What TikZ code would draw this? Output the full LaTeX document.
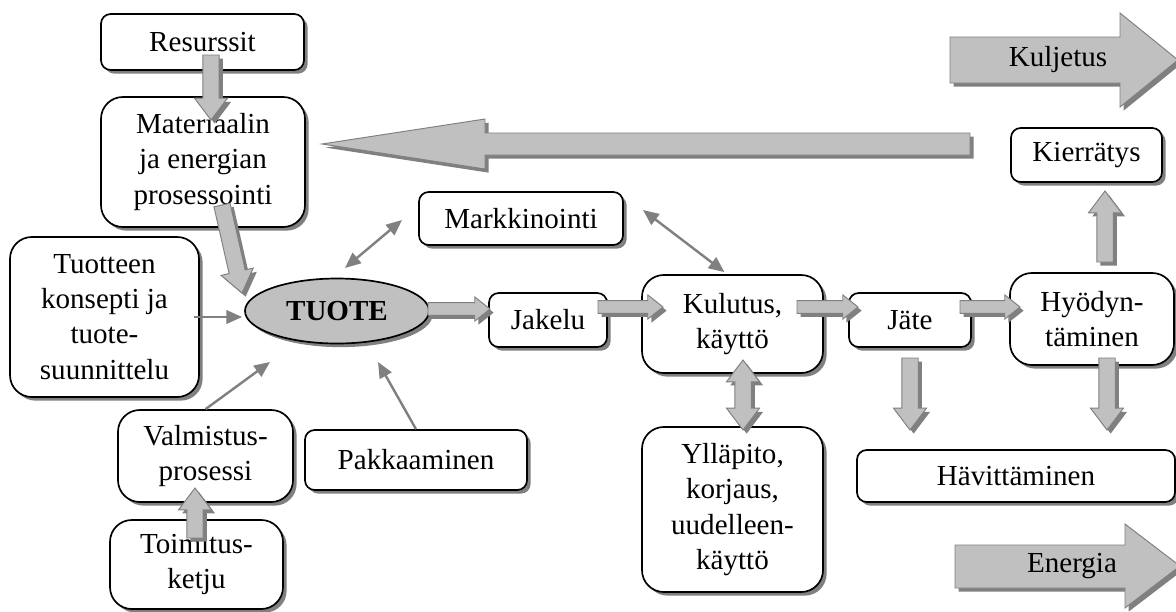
\documentclass[tikz,border=0pt]{standalone}
\usepackage{fontspec}
\setmainfont{Liberation Serif}
\usetikzlibrary{arrows.meta,calc,shadows,shapes.geometric}
\definecolor{fillgray}{HTML}{C0C0C0}
\definecolor{shade}{HTML}{808080}
\tikzset{
  sz/.style 2 args={minimum width=#1*0.413pt,minimum height=#2*0.413pt},
  shad/.style={drop shadow={shadow xshift=1.5pt,shadow yshift=-1.5pt,fill=shade,opacity=1}},
  box/.style={draw=black,line width=0.7pt,fill=white,rounded corners=4pt,align=center,inner sep=1pt,font=\fontsize{12}{14.5}\selectfont,shad},
  bigbox/.style={box,rounded corners=9pt},
  prod/.style={ellipse,draw=black,line width=0.7pt,fill=fillgray,inner sep=0pt,font=\fontsize{12}{14}\selectfont\bfseries,shad},
  fat/.style={draw=shade,line width=0.4pt,fill=fillgray,line join=miter,shad},
  link/.style={-{Triangle[length=6.5pt,width=5.5pt]},draw=shade,line width=1pt},
  dlink/.style={{Triangle[length=6.5pt,width=5.5pt]}-{Triangle[length=6.5pt,width=5.5pt]},draw=shade,line width=1pt},
  lbl/.style={font=\fontsize{12}{14}\selectfont},
}
% #1 from, #2 to, #3 shaft half, #4 head half, #5 head length
\newcommand\fatarrow[5]{%
  \coordinate (fah) at ($(#2)!#5!(#1)$);
  \draw[fat] ($(#1)!#3!90:(#2)$) -- ($(fah)!#3!90:(#2)$) -- ($(fah)!#4!90:(#2)$) -- (#2)
    -- ($(fah)!#4!-90:(#2)$) -- ($(fah)!#3!-90:(#2)$) -- ($(#1)!#3!-90:(#2)$) -- cycle;}
\newcommand\bigfat[2]{\fatarrow{#1}{#2}{3.4pt}{6.8pt}{9pt}}
\newcommand\smallfat[2]{\fatarrow{#1}{#2}{2.6pt}{5pt}{6.3pt}}
\newcommand\fatdarrow[2]{%
  \coordinate (fd1) at ($(#1)!9pt!(#2)$);
  \coordinate (fd2) at ($(#2)!9pt!(#1)$);
  \draw[fat] (#1) -- ($(fd1)!6.8pt!90:(#2)$) -- ($(fd1)!3.4pt!90:(#2)$) -- ($(fd2)!3.4pt!90:(#2)$)
    -- ($(fd2)!6.8pt!90:(#2)$) -- (#2) -- ($(fd2)!6.8pt!-90:(#2)$) -- ($(fd2)!3.4pt!-90:(#2)$)
    -- ($(fd1)!3.4pt!-90:(#2)$) -- ($(fd1)!6.8pt!-90:(#2)$) -- cycle;}

\begin{document}
\begin{tikzpicture}[x=0.413pt,y=-0.413pt]
  \useasboundingbox (0,0) rectangle (1176,611);
  % big background arrows
  \draw[fat] (970,133) -- (485,133) -- (485,119) -- (322,144) -- (485,169) -- (485,155) -- (970,155) -- cycle;
  \draw[fat] (950,37) -- (1120,37) -- (1120,13) -- (1178,60) -- (1120,107) -- (1120,83) -- (950,83) -- cycle;
  \node[lbl] (kulj) at (1058,60) {Kuljetus};
  \draw[fat] (955,545) -- (1125,545) -- (1125,524) -- (1180,566) -- (1125,608) -- (1125,588) -- (955,588) -- cycle;
  \node[lbl] (ener) at (1072,566) {Energia};

  % boxes
  \node[box,sz={203}{56}] (res) at (202.5,42) {Resurssit};
  \node[bigbox,sz={204}{130}] (mat) at (203,162) {Materiaalin\\ja energian\\prosessointi};
  \node[bigbox,sz={189}{160}] (tuo) at (104.5,317) {Tuotteen\\konsepti ja\\tuote-\\suunnittelu};
  \node[prod,sz={184}{65}] (tuote) at (337,311) {TUOTE};
  \node[box,sz={204}{53}] (mark) at (521,218.5) {Markkinointi};
  \node[box,sz={118}{54}] (jak) at (548,320) {Jakelu};
  \node[bigbox,sz={181}{98}] (kul) at (732.5,324) {Kulutus,\\käyttö};
  \node[box,sz={122}{54}] (jat) at (910,320) {Jäte};
  \node[bigbox,sz={164}{92}] (hyo) at (1092,319) {Hyödyn-\\täminen};
  \node[box,sz={151}{54}] (kie) at (1086.5,155) {Kierrätys};
  \node[bigbox,sz={175}{92}] (val) at (205.5,456) {Valmistus-\\prosessi};
  \node[bigbox,sz={173}{89}] (toi) at (196.5,564.5) {Toimitus-\\ketju};
  \node[box,sz={222}{60}] (pak) at (416,460) {Pakkaaminen};
  \node[bigbox,sz={181}{165}] (yll) at (732.5,509.5) {Ylläpito,\\korjaus,\\uudelleen-\\käyttö};
  \node[box,sz={318}{52}] (hav) at (1016,476) {Hävittäminen};

  % free ends
  \coordinate (resA) at (211,55);   \coordinate (matA) at (211,120);
  \coordinate (matB) at (222,205);  \coordinate (tuoteA) at (242,293);
  \coordinate (toiA) at (195,538);  \coordinate (valA) at (195,488);
  \coordinate (jatA) at (910,358);  \coordinate (havA) at (910,430);
  \coordinate (hyoA) at (1107,358); \coordinate (havB) at (1107,430);
  \coordinate (hyoB) at (1105,262); \coordinate (kieA) at (1105,191);
  \coordinate (kulA) at (743,360);  \coordinate (yllA) at (743,430);
  \coordinate (tuoteB) at (428,309); \coordinate (jakA) at (490,309);
  \coordinate (jakB) at (598,307);  \coordinate (kulB) at (663,307);
  \coordinate (kulC) at (797,307);  \coordinate (jatB) at (858,307);
  \coordinate (jatC) at (960,307);  \coordinate (hyoC) at (1020,307);
  \coordinate (valtip) at (270,362);
  \coordinate (paktip) at (378,362);
  \coordinate (tuoteC) at (345,268); \coordinate (markA) at (402,220);
  \coordinate (markB) at (643,210);

  % fat arrows
  \bigfat{resA}{matA}
  \bigfat{matB}{tuoteA}
  \bigfat{toiA}{valA}
  \bigfat{jatA}{havA}
  \bigfat{hyoA}{havB}
  \bigfat{hyoB}{kieA}
  \fatdarrow{kulA}{yllA}
  \smallfat{tuoteB}{jakA}
  \smallfat{jakB}{kulB}
  \smallfat{kulC}{jatB}
  \smallfat{jatC}{hyoC}

  % thin arrows
  \draw[link] ($(tuo.east)+(-6,0)$) -- ($(tuote.west |- tuo.east)+(-2,0)$);
  \draw[link] (val.north) -- (valtip);
  \draw[link] (pak.north) -- (paktip);
  \draw[dlink] (tuoteC) -- (markA);
  \draw[dlink] (markB) -- ($(kul.north)+(-8,-2)$);
\end{tikzpicture}
\end{document}
